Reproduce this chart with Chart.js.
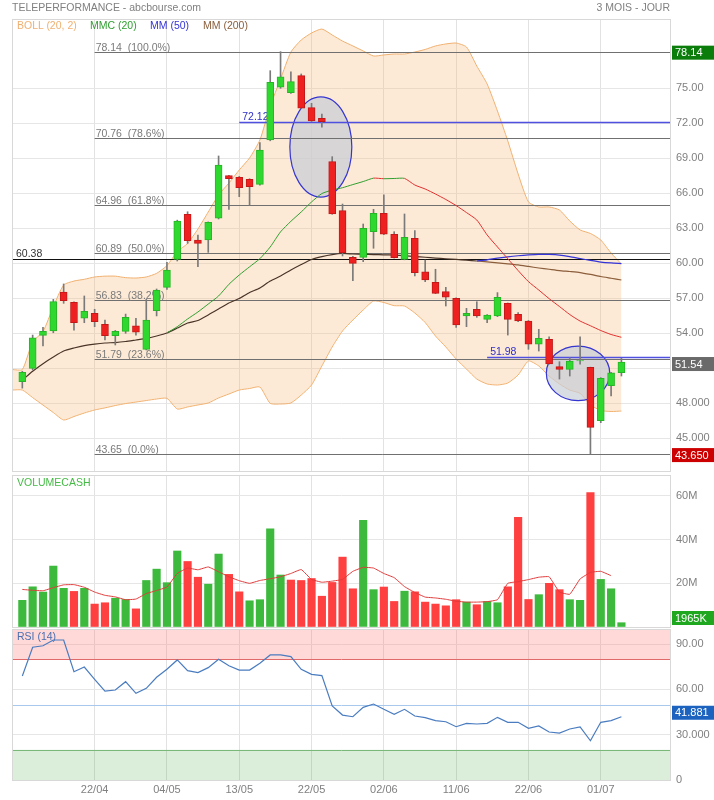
<!DOCTYPE html>
<html>
<head>
<meta charset="utf-8">
<script src="https://cdn.jsdelivr.net/npm/chart.js@4/dist/chart.umd.min.js"></script>
<style>
  body { margin: 0; background: #fff; font-family: "Liberation Sans", Arial, sans-serif; }
  #cadre { position: relative; width: 714px; height: 800px; overflow: hidden; }
  canvas { position: absolute; left: 0; }
  .txt { position: absolute; font-size: 10.5px; line-height: 11px; white-space: nowrap; }
</style>
</head>
<body>
<div id="cadre">
  <canvas id="graphePrix" width="714" height="472" style="top:0"></canvas>
  <canvas id="grapheVolume" width="714" height="155" style="top:473px"></canvas>
  <canvas id="grapheRsi" width="714" height="172" style="top:628px"></canvas>
  <div class="txt" style="left:12px;top:2px;color:#808080">TELEPERFORMANCE - abcbourse.com</div>
  <div class="txt" style="right:44px;top:2px;color:#808080">3 MOIS - JOUR</div>
  <div class="txt" style="left:17px;top:20px;color:#f0b070">BOLL (20, 2)</div>
  <div class="txt" style="left:90px;top:20px;color:#2f9e2f">MMC (20)</div>
  <div class="txt" style="left:150px;top:20px;color:#3434d8">MM (50)</div>
  <div class="txt" style="left:203px;top:20px;color:#8b5e3c">MM (200)</div>
  <div class="txt" style="left:17px;top:477px;color:#44bb44">VOLUMECASH</div>
  <div class="txt" style="left:17px;top:631px;color:#4a6fb0">RSI (14)</div>
</div>
<script>
// séances : index 0 = 13/04 ... 58 = 03/07
const datesX = ['22/04', '04/05', '13/05', '22/05', '02/06', '11/06', '22/06', '01/07'];
const indexDates = [7, 14, 21, 28, 35, 42, 49, 56];

const ouvertures = [49.85,51.0,53.83,54.2,57.54,56.66,55.29,55.71,54.77,53.8,54.17,54.65,52.63,55.94,57.94,60.34,64.2,62.0,62.0,63.86,67.51,67.37,67.2,66.77,70.57,75.09,74.62,76.08,73.34,72.43,68.71,64.51,60.51,60.51,62.71,64.29,62.49,60.34,62.14,59.28,58.37,57.57,57.0,55.49,56.06,55.2,55.49,56.57,55.63,55.06,53.08,53.49,51.14,50.91,51.64,51.09,46.51,49.51,50.62];
const hauts = [50.75,53.85,54.51,56.91,58.23,56.7,57.2,56.06,55.14,54.25,55.65,55.29,56.91,57.8,60.09,63.7,64.42,62.43,63.55,69.2,67.55,67.45,67.25,70.34,76.51,78.14,76.42,76.23,73.71,72.8,69.14,65.08,60.6,63.37,64.63,65.86,62.71,64.23,62.8,60.28,59.49,57.94,57.05,56.14,56.71,55.6,57.49,56.6,55.77,55.1,54.34,53.71,51.57,51.91,53.7,51.1,50.2,50.65,51.86];
const bas = [49.3,50.86,52.91,54.05,56.57,54.28,54.91,54.57,53.43,53.0,54.0,53.85,52.57,55.49,57.77,60.2,61.71,59.71,60.94,63.8,64.63,65.71,65.0,66.7,70.5,75.0,74.57,73.25,72.15,71.66,64.2,60.63,58.51,60.14,61.29,62.45,60.45,60.3,58.91,58.42,57.4,56.34,54.51,54.57,55.37,54.91,55.43,53.85,55.0,52.63,52.48,51.35,50.08,50.34,51.35,43.65,46.34,48.63,50.34];
const clotures = [50.66,53.62,54.17,56.71,56.79,54.91,55.89,54.99,53.8,54.17,55.37,54.09,55.14,57.71,59.43,63.63,61.94,61.71,63.51,68.43,67.25,66.48,66.57,69.71,75.51,75.99,75.57,73.29,72.2,72.14,64.23,60.91,60.0,63.0,64.29,62.49,60.48,62.23,59.2,58.57,57.43,57.09,54.71,55.71,55.49,55.57,57.09,55.2,55.06,53.06,53.57,51.37,50.91,51.63,51.66,45.94,50.14,50.62,51.54];

// bandes de Bollinger, à partir de l'index -1
const bollHaut = [50.9,50.9,53.28,54.14,56.28,58.14,58.48,58.63,58.83,58.9,58.9,58.77,58.74,58.83,59.14,59.8,61.0,61.7,62.94,64.4,65.86,66.88,68.0,69.03,70.57,73.48,75.8,78.11,79.14,79.74,80.08,79.57,79.05,78.63,78.2,77.77,77.86,77.94,77.94,78.11,78.33,78.63,78.8,78.88,78.54,76.91,75.37,73.05,70.49,67.66,65.26,64.83,64.83,64.57,63.63,62.86,62.56,62.0,60.88,59.94];
const bollBas = [49.14,49.14,48.49,47.85,47.21,46.57,46.87,47.17,47.43,47.61,47.81,47.98,48.11,48.24,48.37,48.43,47.51,47.69,47.86,48.03,48.46,48.8,49.14,49.27,49.4,48.0,47.94,48.03,48.71,49.57,51.2,52.83,54.2,55.14,56.0,56.77,56.64,56.37,56.34,55.74,54.93,53.77,52.83,51.8,50.94,50.08,49.66,49.57,49.74,50.43,51.63,51.2,50.34,49.66,49.14,48.86,47.86,47.39,47.3,47.34];
// MMC(20) à partir de l'index 14
const mmc20 = [54.03,54.57,55.23,55.83,56.51,57.2,58.2,59.0,59.7,60.4,61.4,62.7,63.6,64.4,65.26,65.98,66.28,66.48,66.75,67.01,67.3,67.25,67.27,67.28,66.71,66.37,65.94,65.47,64.95,64.35,63.71,62.43,61.4,60.39,59.38,58.43,57.71,56.97,56.3,55.61,55.05,54.65,54.24,53.9,53.66];
// MM(50) à partir de l'index 44
const mm50 = [60.2,60.3,60.45,60.56,60.65,60.72,60.77,60.76,60.71,60.58,60.41,60.25,60.11,60.03,59.98];
const mm200 = [50.0,50.75,51.4,51.97,52.48,52.74,52.95,53.08,53.17,53.21,53.3,53.43,53.56,53.77,54.03,54.45,54.88,55.1,55.57,56.08,56.6,56.98,57.5,57.88,58.48,58.91,59.43,59.9,60.33,60.58,60.75,60.84,60.8,60.78,60.75,60.73,60.7,60.65,60.58,60.52,60.45,60.39,60.33,60.27,60.2,60.12,60.03,59.95,59.86,59.73,59.6,59.49,59.38,59.3,59.21,59.05,58.87,58.72,58.57];

const volumes = [12.2,18.4,16.0,27.9,17.7,16.3,17.7,10.5,11.1,13.2,12.6,8.3,21.3,26.5,20.3,34.8,30.0,22.8,19.6,33.4,24.1,16.1,12.0,12.5,44.9,23.8,21.5,21.3,22.2,14.1,20.4,32.0,17.5,48.9,17.1,18.3,11.7,16.4,16.1,11.4,10.5,9.7,12.5,11.4,10.2,11.7,11.1,18.4,50.2,12.6,14.8,20.0,17.1,12.5,12.2,61.6,21.8,17.5,1.965];
const moyVolumes = [17.2,16.8,16.6,18.0,19.3,19.4,18.2,16.0,14.5,13.8,12.5,12.8,15.3,16.7,18.3,24.5,27.0,26.2,27.5,25.3,23.0,21.2,20.0,21.3,22.1,23.0,24.5,26.3,21.8,20.5,21.0,21.8,25.5,27.3,27.0,24.5,22.6,18.5,15.8,13.7,13.3,12.7,11.8,11.4,11.4,11.6,12.5,20.0,20.8,21.7,22.8,23.0,16.0,15.0,22.0,25.0,25.5,23.5];

const rsi = [68.9,87.9,88.9,92.7,92.7,71.7,74.8,66.7,58.9,59.6,65.1,57.4,60.7,68.0,73.3,79.5,72.4,71.1,74.4,79.9,75.7,72.8,72.8,77.3,82.8,82.8,81.7,73.3,70.0,69.1,49.0,43.0,41.9,48.1,50.3,46.8,43.5,46.8,42.4,41.3,39.3,38.6,35.3,37.5,37.1,37.5,41.5,38.2,38.2,34.2,35.8,31.8,31.1,33.8,35.1,26.0,38.2,39.3,41.881];

const graduationsPrix = [45, 48, 51, 54, 57, 60, 63, 66, 69, 72, 75];
const libellesPrix = ['45.000', '48.000', '', '54.00', '57.00', '60.00', '63.00', '66.00', '69.00', '72.00', '75.00'];
const graduationsVol = [0, 20, 40, 60];
const libellesVol = ['', '20M', '40M', '60M'];
const graduationsRsi = [0, 30, 60, 90];
const libellesRsi = ['0', '30.000', '60.00', '90.00'];

// niveaux de Fibonacci et tracés
const fibNiveaux = [78.14, 70.76, 64.96, 60.89, 56.83, 51.79, 43.65];
const fibPourcents = ['100.0', '78.6', '61.8', '50.0', '38.2', '23.6', '0.0'];
const lignesBleues = [{ v: 72.12, debut: 21 }, { v: 51.98, debut: 45 }];
const ligneNoire = 60.38;
const ellipses = [{ i: 28.9, p: 69.97, di: 3.0, dp: 4.29 }, { i: 53.8, p: 50.57, di: 3.07, dp: 2.34 }];

const police = '11px "Liberation Sans", Arial, sans-serif';
const policeTraces = '10.5px "Liberation Sans", Arial, sans-serif';
Chart.defaults.font.family = '"Liberation Sans", Arial, sans-serif';
Chart.defaults.font.size = 11;
Chart.defaults.color = '#808080';

const VERT = '#2fd82f', ROUGE = '#ee2020';
const points = (arr, depart) => arr.map((v, k) => ({ x: k + depart, y: v }));

function axeX(avecDates) {
    return {
        type: 'linear', min: -1, max: 62.8, offset: false,
        afterBuildTicks: s => { s.ticks = indexDates.map(v => ({ value: v })); },
        afterFit: s => { s.height = avecDates ? 20 : 0; s.paddingLeft = 0; s.paddingRight = 0; },
        ticks: { display: avecDates, autoSkip: false, maxRotation: 0, padding: 3, color: '#808080',
            callback: v => datesX[indexDates.indexOf(v)] },
        grid: { color: '#e2e2e2', drawTicks: false, offset: false },
        border: { display: false }
    };
}

function axeY(min, max, graduations, libelles) {
    return {
        position: 'right', min: min, max: max,
        afterFit: s => { s.width = 43; s.paddingTop = 0; s.paddingBottom = 0; },
        afterBuildTicks: s => { s.ticks = graduations.map(v => ({ value: v })); },
        ticks: { padding: 5, color: '#808080', callback: v => libelles[graduations.indexOf(v)] },
        grid: { color: '#e6e6e6', drawTicks: false },
        border: { display: false }
    };
}

function cadrePanneau(chart) {
    const { ctx, chartArea: a } = chart;
    ctx.save();
    ctx.strokeStyle = '#d8d8d8';
    ctx.lineWidth = 1;
    ctx.strokeRect(a.left + 0.5, a.top + 0.5, a.right - a.left - 1, a.bottom - a.top);
    ctx.restore();
}

function etiquette(chart, py, texte, fond) {
    const { ctx, chartArea: a } = chart;
    ctx.save();
    ctx.fillStyle = fond;
    ctx.fillRect(a.right + 1, py - 7, 43, 14);
    ctx.fillStyle = '#fff';
    ctx.font = police;
    ctx.textBaseline = 'middle';
    ctx.fillText(texte, a.right + 4, py + 0.5);
    ctx.restore();
}

const optionsCommunes = {
    responsive: false, animation: false, events: [],
    plugins: { legend: { display: false }, tooltip: { enabled: false } }
};

// ---- prix ----
const tracesPrix = {
    id: 'tracesPrix',
    afterDatasetDraw(chart, args) {
        if (args.index !== 5) return;
        const { ctx, chartArea: a, scales: { x, y } } = chart;
        ctx.save();
        ellipses.forEach(e => {
            const cx = x.getPixelForValue(e.i), cy = y.getPixelForValue(e.p);
            const rx = Math.abs(x.getPixelForValue(e.i + e.di) - cx);
            const ry = Math.abs(y.getPixelForValue(e.p + e.dp) - cy);
            ctx.beginPath();
            ctx.ellipse(cx, cy, rx, ry, 0, 0, Math.PI * 2);
            ctx.fillStyle = 'rgba(200,205,215,0.7)';
            ctx.fill();
            ctx.strokeStyle = '#3535d0';
            ctx.lineWidth = 1.2;
            ctx.stroke();
        });
        ctx.font = policeTraces;
        ctx.textBaseline = 'alphabetic';
        const x0 = x.getPixelForValue(indexDates[0]);
        fibNiveaux.forEach((v, k) => {
            const py = Math.round(y.getPixelForValue(v)) + 0.5;
            ctx.strokeStyle = '#707070';
            ctx.lineWidth = 1;
            ctx.beginPath(); ctx.moveTo(x0, py); ctx.lineTo(a.right, py); ctx.stroke();
            ctx.fillStyle = '#7a7a7a';
            ctx.fillText(v.toFixed(2) + '  (' + fibPourcents[k] + '%)', x0 + 1, py - 2);
        });
        lignesBleues.forEach(l => {
            const py = Math.round(y.getPixelForValue(l.v)) + 0.5;
            const px = x.getPixelForValue(l.debut);
            ctx.strokeStyle = '#5050e0';
            ctx.lineWidth = 1.5;
            ctx.beginPath(); ctx.moveTo(px, py); ctx.lineTo(a.right, py); ctx.stroke();
            ctx.fillStyle = '#3030c8';
            ctx.fillText(l.v.toFixed(2), px + 3, py - 3);
        });
        const pn = Math.round(y.getPixelForValue(ligneNoire)) + 0.5;
        ctx.strokeStyle = '#111';
        ctx.lineWidth = 1.2;
        ctx.beginPath(); ctx.moveTo(a.left, pn); ctx.lineTo(a.right, pn); ctx.stroke();
        ctx.fillStyle = '#333';
        ctx.fillText(ligneNoire.toFixed(2), a.left + 4, pn - 3);
        ctx.restore();
    },
    afterDraw(chart) {
        const y = chart.scales.y;
        cadrePanneau(chart);
        etiquette(chart, y.getPixelForValue(fibNiveaux[0]) + 1, fibNiveaux[0].toFixed(2), '#0a7d0a');
        etiquette(chart, y.getPixelForValue(clotures[clotures.length - 1]) + 2, clotures[clotures.length - 1].toFixed(2), '#6a6a6a');
        etiquette(chart, y.getPixelForValue(fibNiveaux[6]) + 1, fibNiveaux[6].toFixed(3), '#cc0000');
    }
};

new Chart(document.getElementById('graphePrix'), {
    type: 'bar',
    data: {
        datasets: [
            {
                type: 'bar', grouped: false, barThickness: 7,
                data: ouvertures.map((o, i) => ({ x: i, y: [o, clotures[i]] })),
                backgroundColor: ouvertures.map((o, i) => clotures[i] >= o ? VERT : ROUGE),
                borderColor: ouvertures.map((o, i) => clotures[i] >= o ? '#26b526' : '#c41818'),
                borderWidth: 1, borderSkipped: false
            },
            {
                type: 'bar', grouped: false, barThickness: 1,
                data: bas.map((b, i) => ({ x: i, y: [b, hauts[i]] })),
                backgroundColor: '#7a7a7a'
            },
            {
                type: 'line', data: points(mmc20, 14), borderWidth: 1, pointRadius: 0, tension: 0.2,
                borderColor: '#2f9e2f',
                segment: { borderColor: c => c.p1.parsed.y >= c.p0.parsed.y ? '#2f9e2f' : '#e03030' }
            },
            {
                type: 'line', data: points(mm50, 44), borderColor: '#3434d8', borderWidth: 1.2, pointRadius: 0, tension: 0.2
            },
            {
                type: 'line', data: points(mm200, 0), borderWidth: 1.2, pointRadius: 0, tension: 0.2,
                borderColor: '#8b5e3c',
                segment: { borderColor: c => c.p0.parsed.x < 44 ? '#4a3428' : '#8b5e3c' }
            },
            {
                type: 'line', data: points(bollHaut, -1), borderColor: '#f0b070', borderWidth: 1,
                pointRadius: 0, tension: 0.2, fill: '+1', backgroundColor: 'rgba(248,190,130,0.33)'
            },
            {
                type: 'line', data: points(bollBas, -1), borderColor: '#f0b070', borderWidth: 1,
                pointRadius: 0, tension: 0.2, fill: false
            }
        ]
    },
    options: Object.assign({}, optionsCommunes, {
        layout: { padding: { left: 12, top: 19, right: 0, bottom: 1 } },
        scales: { x: axeX(false), y: axeY(42.2, 80.94, graduationsPrix, libellesPrix) }
    }),
    plugins: [tracesPrix]
});

// ---- volumes ----
const couleursVol = volumes.map((v, i) => clotures[i] >= (i ? clotures[i - 1] : ouvertures[i]) ? '#3dba3d' : '#ff4040');

new Chart(document.getElementById('grapheVolume'), {
    type: 'bar',
    data: {
        datasets: [
            {
                type: 'line', data: points(moyVolumes, 0), borderColor: '#e03a3a', borderWidth: 1,
                pointRadius: 0, tension: 0.1
            },
            {
                type: 'bar', barThickness: 7.5, grouped: false,
                data: points(volumes, 0), backgroundColor: couleursVol
            }
        ]
    },
    options: Object.assign({}, optionsCommunes, {
        layout: { padding: { left: 12, top: 2, right: 0, bottom: 1 } },
        scales: { x: axeX(false), y: axeY(0, 69.6, graduationsVol, libellesVol) }
    }),
    plugins: [{
        id: 'cadreVol',
        afterDraw(chart) {
            const a = chart.chartArea;
            cadrePanneau(chart);
            const dernier = volumes[volumes.length - 1];
            etiquette(chart, Math.min(chart.scales.y.getPixelForValue(dernier), a.bottom - 9),
                Math.round(dernier * 1000) + 'K', '#1fa81f');
        }
    }]
});

// ---- RSI ----
new Chart(document.getElementById('grapheRsi'), {
    type: 'line',
    data: {
        datasets: [{
            data: points(rsi, 0), borderColor: '#4a7cc0', borderWidth: 1.2, pointRadius: 0, tension: 0
        }]
    },
    options: Object.assign({}, optionsCommunes, {
        layout: { padding: { left: 12, top: 1, right: 0, bottom: 0 } },
        scales: { x: axeX(true), y: axeY(0, 100, graduationsRsi, libellesRsi) }
    }),
    plugins: [{
        id: 'zonesRsi',
        beforeDatasetsDraw(chart) {
            const { ctx, chartArea: a, scales: { y } } = chart;
            const h80 = y.getPixelForValue(80), h20 = y.getPixelForValue(20), h50 = y.getPixelForValue(50);
            ctx.save();
            ctx.fillStyle = 'rgba(255,110,110,0.27)';
            ctx.fillRect(a.left, a.top, a.right - a.left, h80 - a.top);
            ctx.fillStyle = 'rgba(70,170,70,0.2)';
            ctx.fillRect(a.left, h20, a.right - a.left, a.bottom - h20);
            const trait = (py, c) => {
                ctx.strokeStyle = c; ctx.lineWidth = 1;
                ctx.beginPath(); ctx.moveTo(a.left, Math.round(py) + 0.5); ctx.lineTo(a.right, Math.round(py) + 0.5); ctx.stroke();
            };
            trait(h80, '#e06a6a');
            trait(h20, '#7ab87a');
            trait(h50, '#a8c8ec');
            ctx.restore();
        },
        afterDraw(chart) {
            cadrePanneau(chart);
            const dernier = rsi[rsi.length - 1];
            etiquette(chart, chart.scales.y.getPixelForValue(dernier) - 4, dernier.toFixed(3), '#1c63c0');
        }
    }]
});
</script>
</body>
</html>
